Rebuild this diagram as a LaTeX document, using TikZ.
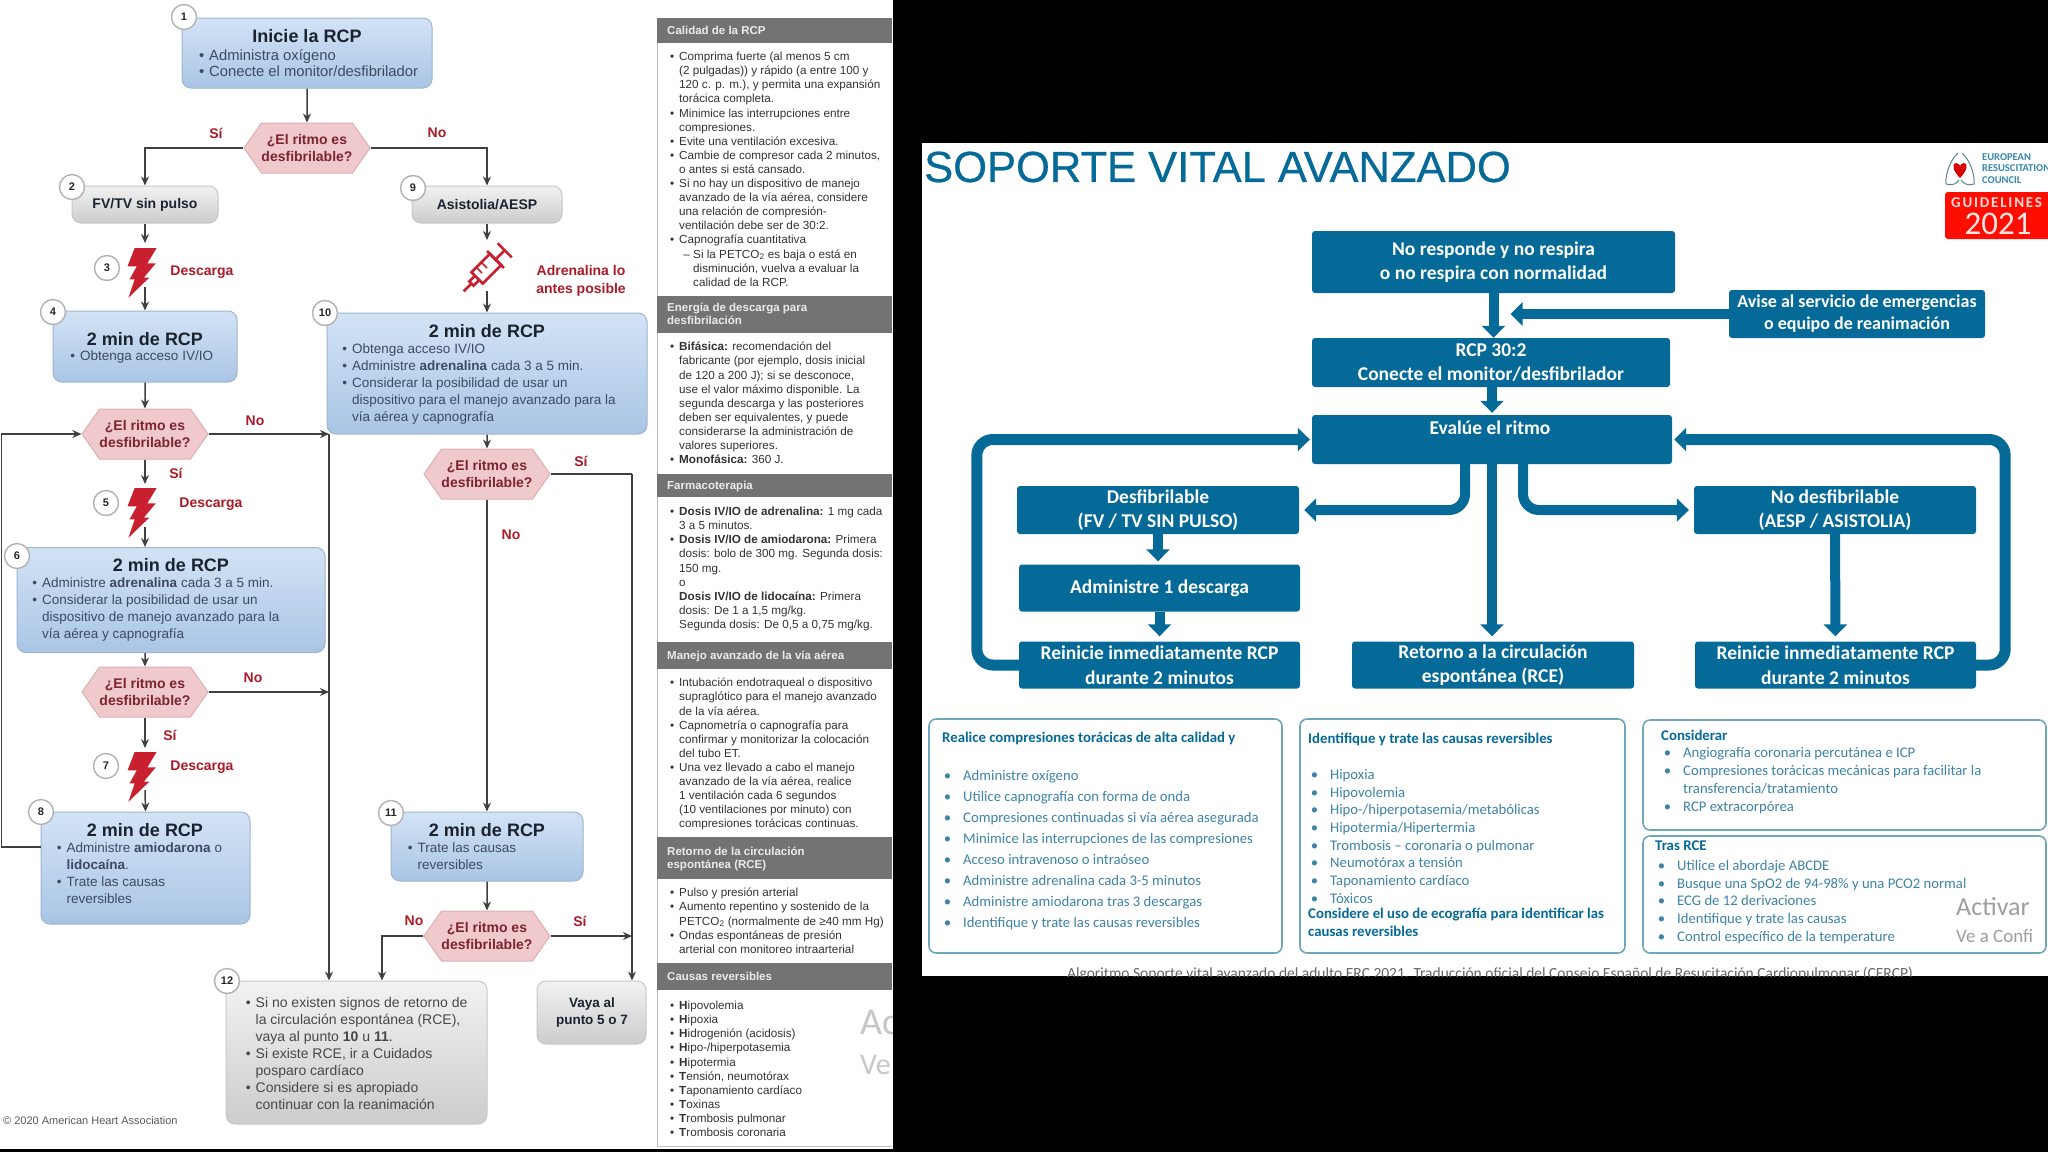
\documentclass[tikz,border=0pt]{standalone}
\usepackage{fontspec}
\setmainfont{Liberation Sans}
\newfontfamily\ercfont{Carlito}
\newfontfamily\gdlfont[LetterSpace=12]{Carlito}
\newfontfamily\headfont[FakeBold=0.6]{Liberation Sans}
\usetikzlibrary{arrows.meta,shapes.symbols}

\definecolor{ercblue}{HTML}{056A97}
\definecolor{erctext}{HTML}{3F83A6}
\definecolor{ercframe}{HTML}{6FA6BC}
\definecolor{ahatext}{HTML}{3C4A63}
\definecolor{ahadark}{HTML}{1B2230}
\definecolor{ahared}{HTML}{C8202F}
\definecolor{hexred}{HTML}{7D2331}
\definecolor{boxtop}{HTML}{D3E3F6}
\definecolor{boxbot}{HTML}{A9C5E4}
\definecolor{boxline}{HTML}{9DB5D2}
\definecolor{hexfill}{HTML}{EFC9CC}
\definecolor{hexline}{HTML}{DDB0B4}

\newcommand{\bul}{\leavevmode\llap{\textbullet\hspace{5pt}}}
\newcommand{\ebul}{\leavevmode\llap{\textbullet\hspace{12pt}}}

\tikzset{
    blue box/.style={
      draw=boxline, line width=1pt, rounded corners=9pt,
      top color=boxtop, bottom color=boxbot
    },
    grey box/.style={
      draw=black!22, line width=1pt, rounded corners=9pt,
      top color=black!5, bottom color=black!20
    },
    hex box/.style={
      shape=signal, signal to=west and east, signal pointer angle=110,
      minimum width=122pt, minimum height=50pt, inner sep=0pt,
      draw=hexline, line width=1pt, fill=hexfill,
      font=\bfseries\fontsize{14}{16.3}\selectfont, text=hexred, align=center
    },
    num badge/.style={
      shape=circle, draw=black!30, line width=1.4pt, fill=white, inner sep=0pt,
      minimum size=25pt, font=\bfseries\fontsize{11}{12}\selectfont, text=black!85
    },
    box title/.style={
      font=\bfseries\fontsize{18}{20}\selectfont, text=ahadark, inner sep=0pt
    },
    box text/.style={
      font=\fontsize{13.5}{16.8}\selectfont, text=ahatext, align=left,
      inner sep=0pt, anchor=north west
    },
    red label/.style={
      font=\bfseries\fontsize{14}{18}\selectfont, text=ahared!85!black, align=center,
      inner sep=0pt
    },
    flow/.style={
      draw=black!75, line width=1.5pt, -{Stealth[length=9pt,width=8pt]}
    },
    side head/.style={
      fill=black!55, minimum width=235pt, inner sep=0pt, anchor=north west
    },
    side title/.style={
      font=\bfseries\fontsize{11.5}{13}\selectfont, text=black!8, align=left,
      inner sep=0pt, anchor=north west
    },
    side text/.style={
      font=\fontsize{11.7}{14.1}\selectfont, text=black!80, align=left,
      inner sep=0pt, anchor=north west
    },
    erc box/.style={
      fill=ercblue, rounded corners=3pt, inner sep=0pt,
      font=\ercfont\bfseries\fontsize{19.5}{24.5}\selectfont, text=white, align=center
    },
    erc flow/.style={
      draw=ercblue, line width=10pt, -{Triangle[length=12pt,width=23pt]}
    },
    erc loop/.style={
      draw=ercblue, line width=11pt, rounded corners=16pt,
      -{Triangle[length=12pt,width=23pt]}
    },
    erc frame/.style={
      draw=ercframe, line width=1.6pt, rounded corners=7pt, fill=white
    },
    erc head/.style={
      font=\ercfont\bfseries\fontsize{14.8}{18}\selectfont, text=ercblue, align=left,
      inner sep=0pt, anchor=north west
    },
    erc text/.style={
      font=\ercfont\fontsize{14.7}{17.7}\selectfont, text=erctext, align=left,
      inner sep=0pt, anchor=north west
    },
    watermark/.style={
      text=black!38, inner sep=0pt, anchor=west, font=\ercfont\fontsize{26}{28}\selectfont
    },
    watermark small/.style={
      text=black!38, inner sep=0pt, anchor=west, font=\ercfont\fontsize{19}{21}\selectfont
    },
    bolt/.pic={
      \fill[ahared] (-7.3,-24) -- (14.6,-24) -- (5.3,-8.6) -- (13.7,-8.6) -- (1.9,5.5) -- (7.4,5.5)
        -- (-13.6,25.8) -- (-7.3,7.3) -- (-12.4,7.3) -- (-5.2,-5.6) -- (-14.5,-5.6) -- cycle;
    }
}

\begin{document}
\begin{tikzpicture}[x=1pt,y=-1pt]
  \useasboundingbox (0,0) rectangle (2048,1152);
  \clip (0,0) rectangle (2048,1152);
  \fill[black] (0,0) rectangle (2048,1152);
  \fill[white] (0,0) rectangle (893,1149);
  \fill[white] (922,143) rectangle (2048,976);

  % algoritmo izquierdo: cajas
  \node[blue box, minimum width=250pt, minimum height=70pt] (inicie) at (307,53) {};
  \node[hex box] (hexA) at (307,148) {¿El ritmo es\\desfibrilable?};
  \node[grey box, minimum width=146pt, minimum height=37pt] (fvtv) at (145,204.5) {};
  \node[grey box, minimum width=150pt, minimum height=37pt] (asist) at (487,204.5) {};
  \node[blue box, minimum width=184pt, minimum height=71pt] (rcpB) at (145,346.5) {};
  \node[blue box, minimum width=320pt, minimum height=121pt] (rcpJ) at (487,373.5) {};
  \node[hex box] (hexB) at (145,434) {¿El ritmo es\\desfibrilable?};
  \node[hex box] (hexE) at (487,474) {¿El ritmo es\\desfibrilable?};
  \node[blue box, minimum width=308pt, minimum height=105pt] (rcpF) at (171,600) {};
  \node[hex box] (hexC) at (145,692) {¿El ritmo es\\desfibrilable?};
  \node[blue box, minimum width=209pt, minimum height=112pt] (rcpH) at (145.5,868) {};
  \node[blue box, minimum width=192pt, minimum height=69pt] (rcpK) at (487,846.5) {};
  \node[hex box] (hexD) at (487,936) {¿El ritmo es\\desfibrilable?};
  \node[grey box, minimum width=261pt, minimum height=143pt] (finL) at (356.5,1052.5) {};
  \node[grey box, minimum width=109pt, minimum height=63pt] (vaya) at (591.5,1012.5) {};

  % iconos
  \pic at (142,272) {bolt};
  \pic at (142,512) {bolt};
  \pic at (142,776) {bolt};
  \begin{scope}[shift={(487,268)}, rotate=45, draw=ahared, line width=2.6pt]
    \draw (-14,-8) rectangle (12,8);
    \draw (12,0) -- (25,0);
    \draw (12,-12) -- (12,12);
    \draw (25,-10) -- (25,10);
    \draw (-14,-3) -- (-22,-3) -- (-22,3) -- (-14,3);
    \draw (-22,0) -- (-33,0);
    \draw[line width=1.6pt] (-7,-8) -- (-7,0) (0,-8) -- (0,0);
  \end{scope}
  \coordinate (boltAin) at (145,243);
  \coordinate (boltAout) at (145,287);
  \coordinate (boltBin) at (145,484);
  \coordinate (boltBout) at (145,527);
  \coordinate (boltCin) at (145,748);
  \coordinate (boltCout) at (145,790);
  \coordinate (syrIn) at (487,240);
  \coordinate (syrOut) at (487,291);
  \coordinate (nocol) at (329,434);
  \coordinate (sicol) at (632,474);

  % flechas
  \draw[flow] (inicie) -- (hexA);
  \draw[flow] (hexA.west) -| (fvtv.north);
  \draw[flow] (hexA.east) -| (asist.north);
  \draw[flow] (fvtv) -- (boltAin);
  \draw[flow] (boltAout) -- (rcpB.north);
  \draw[flow] (asist) -- (syrIn);
  \draw[flow] (syrOut) -- (rcpJ.north);
  \draw[flow] (rcpB) -- (hexB);
  \draw[flow] (hexB) -- (boltBin);
  \draw[flow] (boltBout) -- (boltBout |- rcpF.north);
  \draw[flow] (rcpF.south -| hexC) -- (hexC);
  \draw[flow] (hexC) -- (boltCin);
  \draw[flow] (boltCout) -- (rcpH.north);
  \draw[flow] ([yshift=21pt]rcpH.west) -- ++(-39,0) |- (hexB.west);
  \draw[flow] (nocol) -- (nocol |- finL.north);
  \draw[flow] (hexB.east) -- (nocol);
  \draw[flow] (hexC.east) -- (nocol |- hexC);
  \draw[flow] (rcpJ) -- (hexE);
  \draw[flow] (hexE.south) -- (rcpK.north);
  \draw[flow, -] (hexE.east) -- (sicol);
  \draw[flow] (sicol) -- (sicol |- vaya.north);
  \draw[flow] (rcpK) -- (hexD);
  \draw[flow] (hexD.east) -- (sicol |- hexD);
  \draw[flow] (hexD.west) -| ([xshift=25.5pt]finL.north);

  % textos de cajas
  \node[box title] (tinicie) at (307,36) {Inicie la RCP};
  \node[box text, font=\fontsize{14.8}{16.8}\selectfont] (binicie) at (209,49) {\bul Administra oxígeno\\\bul Conecte el monitor/desfibrilador};
  \node[box title, font=\bfseries\fontsize{14}{16}\selectfont] (tfvtv) at (145,205) {FV/TV sin pulso};
  \node[box title, font=\bfseries\fontsize{14}{16}\selectfont] (tasist) at (487,205) {Asistolia/AESP};
  \node[box title] (trcpB) at (145,339) {2 min de RCP};
  \node[box text] (brcpB) at (80,351) {\bul Obtenga acceso IV/IO};
  \node[box title] (trcpJ) at (487,331) {2 min de RCP};
  \node[box text] (brcpJ) at (352,344) {\bul Obtenga acceso IV/IO\\\bul Administre \textbf{adrenalina} cada 3 a 5 min.\\\bul Considerar la posibilidad de usar un\\dispositivo para el manejo avanzado para la\\vía aérea y capnografía};
  \node[box title] (trcpF) at (171,565) {2 min de RCP};
  \node[box text] (brcpF) at (42,578) {\bul Administre \textbf{adrenalina} cada 3 a 5 min.\\\bul Considerar la posibilidad de usar un\\dispositivo de manejo avanzado para la\\vía aérea y capnografía};
  \node[box title] (trcpH) at (145,830) {2 min de RCP};
  \node[box text] (brcpH) at (66.5,843) {\bul Administre \textbf{amiodarona} o\\\textbf{lidocaína}.\\\bul Trate las causas\\reversibles};
  \node[box title] (trcpK) at (487,830) {2 min de RCP};
  \node[box text] (brcpK) at (417.5,843) {\bul Trate las causas\\reversibles};
  \node[box text, text=black!72, font=\fontsize{14}{17}\selectfont] (bfinL) at (255.5,997) {\bul Si no existen signos de retorno de\\la circulación espontánea (RCE),\\vaya al punto \textbf{10} u \textbf{11}.\\\bul Si existe RCE, ir a Cuidados\\posparo cardíaco\\\bul Considere si es apropiado\\continuar con la reanimación};
  \node[box title, font=\bfseries\fontsize{13.5}{16.8}\selectfont, align=center] (tvaya) at (592,1012.5) {Vaya al\\punto 5 o 7};
  \node[box text, font=\fontsize{11}{13}\selectfont, anchor=west, text=black!65] (copy) at (3,1121) {© 2020 American Heart Association};

  % etiquetas rojas
  \node[red label] (siA) at (216,133) {Sí};
  \node[red label] (noA) at (437,133) {No};
  \node[red label] (desA) at (202,272) {Descarga};
  \node[red label] (adre) at (581,280.5) {Adrenalina lo\\antes posible};
  \node[red label] (noB) at (255,421) {No};
  \node[red label] (siB) at (176,473) {Sí};
  \node[red label] (desB) at (211,504) {Descarga};
  \node[red label] (siE) at (581,461) {Sí};
  \node[red label] (noE) at (511,535) {No};
  \node[red label] (noC) at (253,678) {No};
  \node[red label] (siC) at (170,735) {Sí};
  \node[red label] (desC) at (202,767) {Descarga};
  \node[red label] (noD) at (414,921) {No};
  \node[red label] (siD) at (580,921) {Sí};

  % numeros
  \foreach \name/\px/\py/\txt in {nA/184/17/1, nB/72/187/2, nC/107/268/3, nD/53/312/4, nE/106/503/5,
      nF/17/556/6, nG/106/766/7, nH/41/812/8, nI/413/188/9, nJ/325/313/10, nK/391/813/11, nL/227/981/12}
    \node[num badge] (\name) at (\px,\py) {\txt};

  % columna derecha
  \draw[black!25, line width=0.8pt] (657,18) -- (657,1146) -- (892,1146);
  \node[side head, minimum height=25pt] (hdA) at (657,18) {};
  \node[side head, minimum height=37pt] (hdB) at (657,296) {};
  \node[side head, minimum height=23pt] (hdC) at (657,474) {};
  \node[side head, minimum height=27pt] (hdD) at (657,642) {};
  \node[side head, minimum height=42pt] (hdE) at (657,837) {};
  \node[side head, minimum height=27pt] (hdF) at (657,963) {};
  \node[side title] (stA) at (667,26) {Calidad de la RCP};
  \node[side title] (stB) at (667,303) {Energía de descarga para\\desfibrilación};
  \node[side title] (stC) at (667,481) {Farmacoterapia};
  \node[side title] (stD) at (667,651) {Manejo avanzado de la vía aérea};
  \node[side title] (stE) at (667,847) {Retorno de la circulación\\espontánea (RCE)};
  \node[side title] (stF) at (667,972) {Causas reversibles};
  \node[side text] (sbA) at (679,52) {\bul Comprima fuerte (al menos 5 cm\\(2 pulgadas)) y rápido (a entre 100 y\\120 c. p. m.), y permita una expansión\\torácica completa.\\\bul Minimice las interrupciones entre\\compresiones.\\\bul Evite una ventilación excesiva.\\\bul Cambie de compresor cada 2 minutos,\\o antes si está cansado.\\\bul Si no hay un dispositivo de manejo\\avanzado de la vía aérea, considere\\una relación de compresión-\\ventilación debe ser de 30:2.\\\bul Capnografía cuantitativa\\\hspace{14pt}\llap{– }Si la PETCO\textsubscript{2} es baja o está en\\\hspace{14pt}disminución, vuelva a evaluar la\\\hspace{14pt}calidad de la RCP.};
  \node[side text] (sbB) at (679,342) {\bul \textbf{Bifásica:} recomendación del\\fabricante (por ejemplo, dosis inicial\\de 120 a 200 J); si se desconoce,\\use el valor máximo disponible. La\\segunda descarga y las posteriores\\deben ser equivalentes, y puede\\considerarse la administración de\\valores superiores.\\\bul \textbf{Monofásica:} 360 J.};
  \node[side text] (sbC) at (679,507) {\bul \textbf{Dosis IV/IO de adrenalina:} 1 mg cada\\3 a 5 minutos.\\\bul \textbf{Dosis IV/IO de amiodarona:} Primera\\dosis: bolo de 300 mg. Segunda dosis:\\150 mg.\\o\\\textbf{Dosis IV/IO de lidocaína:} Primera\\dosis: De 1 a 1,5 mg/kg.\\Segunda dosis: De 0,5 a 0,75 mg/kg.};
  \node[side text] (sbD) at (679,678) {\bul Intubación endotraqueal o dispositivo\\supraglótico para el manejo avanzado\\de la vía aérea.\\\bul Capnometría o capnografía para\\confirmar y monitorizar la colocación\\del tubo ET.\\\bul Una vez llevado a cabo el manejo\\avanzado de la vía aérea, realice\\1 ventilación cada 6 segundos\\(10 ventilaciones por minuto) con\\compresiones torácicas continuas.};
  \node[side text] (sbE) at (679,888) {\bul Pulso y presión arterial\\\bul Aumento repentino y sostenido de la\\PETCO\textsubscript{2} (normalmente de ≥40 mm Hg)\\\bul Ondas espontáneas de presión\\arterial con monitoreo intraarterial};
  \node[side text] (sbF) at (679,1001) {\bul \textbf{H}ipovolemia\\\bul \textbf{H}ipoxia\\\bul \textbf{H}idrogenión (acidosis)\\\bul \textbf{H}ipo-/hiperpotasemia\\\bul \textbf{H}ipotermia\\\bul \textbf{T}ensión, neumotórax\\\bul \textbf{T}aponamiento cardíaco\\\bul \textbf{T}oxinas\\\bul \textbf{T}rombosis pulmonar\\\bul \textbf{T}rombosis coronaria};
  \node[watermark, font=\ercfont\fontsize{38}{40}\selectfont, text=black!22] (wmA) at (860,1022) {Ac};
  \node[watermark, font=\ercfont\fontsize{30}{32}\selectfont, text=black!22] (wmB) at (860,1065) {Ve};
  \fill[black] (893,0) rectangle (922,1152);

  % panel ERC
  \node[font=\headfont\fontsize{43.5}{48}\selectfont, text=ercblue, anchor=west, inner sep=0pt] (title) at (924,167) {SOPORTE VITAL AVANZADO};
  \node[erc box, minimum width=363pt, minimum height=62pt] (noresp) at (1493.5,262) {No responde y no respira\\o no respira con normalidad};
  \node[erc box, minimum width=256pt, minimum height=48pt, font=\ercfont\bfseries\fontsize{18}{22}\selectfont] (avise) at (1857,314) {Avise al servicio de emergencias\\o equipo de reanimación};
  \node[erc box, minimum width=358pt, minimum height=49pt] (rcpER) at (1491,362.5) {RCP 30:2\\Conecte el monitor/desfibrilador};
  \node[erc box, minimum width=360pt, minimum height=49pt] (evalua) at (1492,439.5) {};
  \node[font=\ercfont\bfseries\fontsize{19.5}{24}\selectfont, text=white, inner sep=0pt] (tevalua) at (1490,428) {Evalúe el ritmo};
  \node[erc box, minimum width=282pt, minimum height=48pt] (desfib) at (1158,510) {Desfibrilable\\(FV / TV SIN PULSO)};
  \node[erc box, minimum width=282pt, minimum height=48pt] (nodesf) at (1835,510) {No desfibrilable\\(AESP / ASISTOLIA)};
  \node[erc box, minimum width=281pt, minimum height=47pt] (descarga) at (1159.5,588) {Administre 1 descarga};
  \node[erc box, minimum width=281pt, minimum height=47pt] (reinL) at (1159.5,665) {Reinicie inmediatamente RCP\\durante 2 minutos};
  \node[erc box, minimum width=282pt, minimum height=47pt] (retorno) at (1493,665) {Retorno a la circulación\\espontánea (RCE)};
  \node[erc box, minimum width=281pt, minimum height=47pt] (reinR) at (1835.5,665) {Reinicie inmediatamente RCP\\durante 2 minutos};

  \draw[erc flow] (noresp) -- (noresp |- rcpER.north);
  \draw[erc flow, shorten >=17pt] (avise.west) -- (avise.west -| noresp.south);
  \draw[erc flow, shorten >=2pt] (rcpER.south -| evalua) -- (evalua.north);
  \draw[erc loop, shorten >=2pt] (reinL.west) -- ++(-42,0) |- (evalua.west);
  \draw[erc loop, shorten >=2pt] (reinR.east) -- ++(29,0) |- (evalua.east);
  \draw[erc loop, line width=10pt, shorten >=5pt] ([xshift=-27pt]evalua.south) |- (desfib.east);
  \draw[erc loop, line width=10pt, shorten >=5pt] ([xshift=31pt]evalua.south) |- (nodesf.west);
  \draw[erc flow, shorten >=5pt] (evalua) -- (retorno.north -| evalua);
  \draw[erc flow, shorten >=3pt] (desfib) -- (descarga.north -| desfib);
  \draw[erc flow, shorten >=5pt] (descarga) -- (reinL);
  \draw[erc flow, shorten >=5pt] (nodesf) -- (reinR);

  % logo
  \draw[ercframe!80!black, line width=1pt] (1958,153) .. controls (1950,160) and (1945,175) .. (1946,184) .. controls (1952,186) and (1956,184) .. (1959,180);
  \draw[ercframe!80!black, line width=1pt] (1962,153) .. controls (1970,160) and (1975,175) .. (1974,184) .. controls (1968,186) and (1964,184) .. (1961,180);
  \fill[red!85!black] (1960,178) .. controls (1952,170) and (1952,163) .. (1956,163) .. controls (1958,163) and (1960,165) .. (1960,166) .. controls (1960,165) and (1962,163) .. (1964,163) .. controls (1968,163) and (1968,170) .. (1960,178);
  \node[font=\ercfont\bfseries\fontsize{10.5}{11.7}\selectfont, text=ercblue!80, align=left, anchor=north west, inner sep=0pt] (ercname) at (1982,153) {EUROPEAN\\RESUSCITATION\\COUNCIL};
  \fill[red!90!orange, rounded corners=3pt] (1945,192) rectangle (2060,239);
  \node[font=\gdlfont\bfseries\fontsize{15}{16}\selectfont, text=red!15, anchor=west, inner sep=0pt] (gdl) at (1951,202.5) {GUIDELINES};
  \node[font=\ercfont\fontsize{33}{34}\selectfont, text=red!10, inner sep=0pt] (year) at (1998,224) {2021};

  % recuadros inferiores
  \node[erc frame, minimum width=353pt, minimum height=234pt] (boxA) at (1105.5,836) {};
  \node[erc frame, minimum width=325pt, minimum height=234pt] (boxB) at (1462.5,836) {};
  \node[erc frame, minimum width=403pt, minimum height=110pt] (boxC) at (1844.5,775) {};
  \node[erc frame, minimum width=403pt, minimum height=117pt] (boxD) at (1844.5,894.5) {};
  \node[erc head] (hA) at (942,732) {Realice compresiones torácicas de alta calidad y};
  \node[erc text, font=\ercfont\fontsize{14.7}{21}\selectfont] (lA) at (963,770) {\ebul Administre oxígeno\\\ebul Utilice capnografía con forma de onda\\\ebul Compresiones continuadas si vía aérea asegurada\\\ebul Minimice las interrupciones de las compresiones\\\ebul Acceso intravenoso o intraóseo\\\ebul Administre adrenalina cada 3-5 minutos\\\ebul Administre amiodarona tras 3 descargas\\\ebul Identifique y trate las causas reversibles};
  \node[erc head] (hB) at (1308,733) {Identifique y trate las causas reversibles};
  \node[erc text] (lB) at (1330,769) {\ebul Hipoxia\\\ebul Hipovolemia\\\ebul Hipo-/hiperpotasemia/metabólicas\\\ebul Hipotermia/Hipertermia\\\ebul Trombosis – coronaria o pulmonar\\\ebul Neumotórax a tensión\\\ebul Taponamiento cardíaco\\\ebul Tóxicos};
  \node[erc head] (hB2) at (1308,908) {Considere el uso de ecografía para identificar las\\causas reversibles};
  \node[erc head] (hC) at (1661,730) {Considerar};
  \node[erc text, font=\ercfont\fontsize{14.7}{18}\selectfont] (lC) at (1683,747) {\ebul Angiografía coronaria percutánea e ICP\\\ebul Compresiones torácicas mecánicas para facilitar la\\transferencia/tratamiento\\\ebul RCP extracorpórea};
  \node[erc head] (hD) at (1655,841) {Tras RCE};
  \node[erc text] (lD) at (1677,860) {\ebul Utilice el abordaje ABCDE\\\ebul Busque una SpO2 de 94-98\% y una PCO2 normal\\\ebul ECG de 12 derivaciones\\\ebul Identifique y trate las causas\\\ebul Control específico de la temperature};
  \node[watermark] (wmC) at (1956,907) {Activar};
  \node[watermark small] (wmD) at (1956,936) {Ve a Confi};
  \begin{scope}
    \clip (922,900) rectangle (2048,976);
    \node[font=\ercfont\fontsize{15.5}{17}\selectfont, text=black!60, inner sep=0pt] (pie) at (1490,974) {Algoritmo Soporte vital avanzado del adulto ERC 2021. Traducción oficial del Consejo Español de Resucitación Cardiopulmonar (CERCP)};
  \end{scope}
\end{tikzpicture}
\end{document}
